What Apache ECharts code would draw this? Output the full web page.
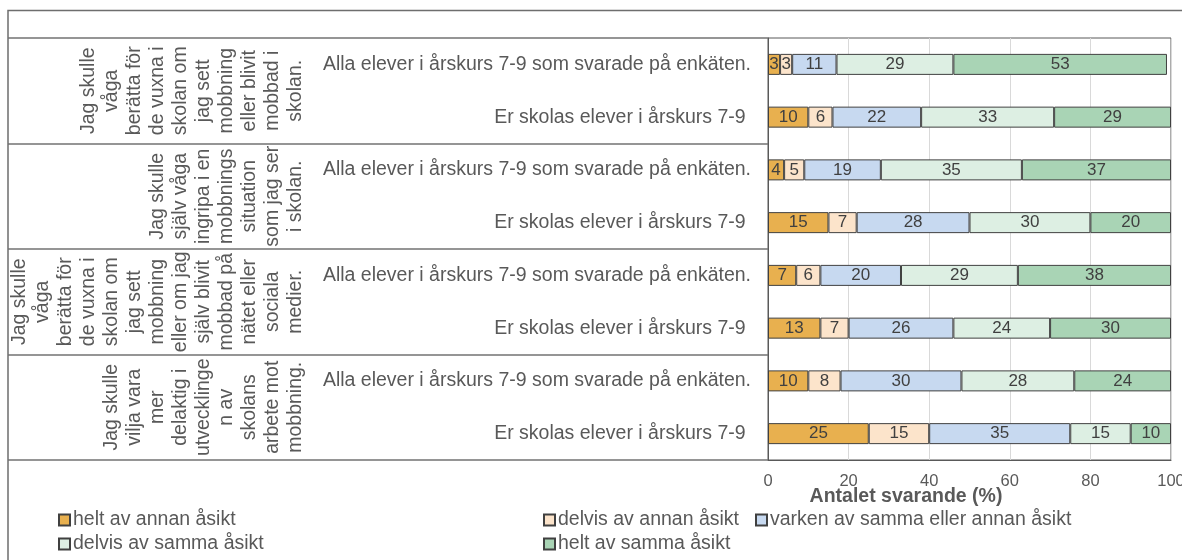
<!DOCTYPE html>
<html>
<head>
<meta charset="utf-8">
<script src="https://cdn.jsdelivr.net/npm/echarts@6/dist/echarts.min.js"></script>
<style>
  html, body { margin: 0; padding: 0; background: #fff; }
  #chart { width: 1182px; height: 560px; }
</style>
</head>
<body>
<div id="chart"></div>
<script>
// Rows (top to bottom) and the question each pair of rows belongs to
const rowLabels = [
  'Alla elever i årskurs 7-9 som svarade på enkäten.', 'Er skolas elever i årskurs 7-9 ',
  'Alla elever i årskurs 7-9 som svarade på enkäten.', 'Er skolas elever i årskurs 7-9 ',
  'Alla elever i årskurs 7-9 som svarade på enkäten.', 'Er skolas elever i årskurs 7-9 ',
  'Alla elever i årskurs 7-9 som svarade på enkäten.', 'Er skolas elever i årskurs 7-9 '
];
const questionLabels = [
  'Jag skulle\nvåga\nberätta för\nde vuxna i\nskolan om\njag sett\nmobbning\neller blivit\nmobbad i\nskolan.',
  'Jag skulle\nsjälv våga\ningripa i en\nmobbnings\nsituation\nsom jag ser\ni skolan.',
  'Jag skulle\nvåga\nberätta för\nde vuxna i\nskolan om\njag sett\nmobbning\neller om jag\nsjälv blivit\nmobbad på\nnätet eller\nsociala\nmedier.',
  'Jag skulle\nvilja vara\nmer\ndelaktig i\nutvecklinge\nn av\nskolans\narbete mot\nmobbning.'
];

// Answer categories (stack order, left to right)
const seriesNames = [
  'helt av annan åsikt',
  'delvis av annan åsikt',
  'varken av samma eller annan åsikt',
  'delvis av samma åsikt',
  'helt av samma åsikt'
];

// Share of respondents (%) per row
const heltAnnan   = [3, 10, 4, 15, 7, 13, 10, 25];
const delvisAnnan = [3, 6, 5, 7, 6, 7, 8, 15];
const varken      = [11, 22, 19, 28, 20, 26, 30, 35];
const delvisSamma = [29, 33, 35, 30, 29, 24, 28, 15];
const heltSamma   = [53, 29, 37, 20, 38, 30, 24, 10];

const xTicks = [0, 20, 40, 60, 80, 100];

const seriesValues = [heltAnnan, delvisAnnan, varken, delvisSamma, heltSamma];
const colors = ['#E8B04F', '#FCE4CB', '#C7D9F0', '#DDEFE3', '#A9D4B5'];

const TEXT = '#595959';
const FONT = 'Liberation Sans, Arial, sans-serif';

const chart = echarts.init(document.getElementById('chart'), null, { renderer: 'canvas' });

const series = seriesNames.map((name, i) => ({
  name: name,
  type: 'bar',
  stack: 'total',
  yAxisIndex: 0,
  barWidth: 21,
  data: seriesValues[i],
  itemStyle: { color: colors[i], borderColor: '#404040', borderWidth: 1 },
  label: {
    show: true,
    position: 'inside',
    color: '#404040',
    fontSize: 17,
    fontFamily: FONT
  },
  emphasis: { disabled: true }
}));

const legendBase = {
  orient: 'vertical',
  icon: 'rect',
  itemWidth: 11,
  itemHeight: 11,
  itemGap: 2,
  padding: 0,
  top: 509,
  textStyle: { color: TEXT, fontSize: 19.5, fontFamily: FONT, lineHeight: 22, padding: [0, 0, 0, -2] },
  selectedMode: false
};

chart.setOption({
  animation: false,
  textStyle: { fontFamily: FONT },
  color: colors,
  grid: {
    left: 768,
    right: 11,
    top: 38,
    bottom: 100,
    show: true,
    borderColor: '#595959',
    borderWidth: 1,
    containLabel: false,
    outerBoundsMode: 'none'
  },
  xAxis: {
    type: 'value',
    min: xTicks[0],
    max: xTicks[xTicks.length - 1],
    interval: xTicks[1] - xTicks[0],
    axisLine: { show: true, lineStyle: { color: '#595959', width: 1 } },
    axisTick: { show: false },
    splitLine: { show: true, lineStyle: { color: '#D9D9D9', width: 1 } },
    axisLabel: { color: TEXT, fontSize: 16.5, fontFamily: FONT, margin: 13 },
    name: 'Antalet svarande (%)',
    nameLocation: 'middle',
    nameGap: 27,
    nameMoveOverlap: false,
    nameTextStyle: {
      color: TEXT,
      fontSize: 19.5,
      fontWeight: 'bold',
      fontFamily: FONT,
      padding: [0, 127, 0, 0]
    }
  },
  yAxis: [
    {
      type: 'category',
      position: 'left',
      inverse: true,
      data: rowLabels,
      axisLine: { show: true, lineStyle: { color: '#595959', width: 1 } },
      axisTick: { show: false },
      axisLabel: { color: TEXT, fontSize: 19.5, fontFamily: FONT, margin: 17, interval: 0 }
    },
    {
      type: 'category',
      position: 'left',
      inverse: true,
      data: questionLabels,
      axisLine: { show: false },
      axisTick: {
        show: true,
        interval: 0,
        length: 760,
        lineStyle: { color: '#737373', width: 1.5 }
      },
      axisLabel: {
        rotate: 90,
        interval: 0,
        margin: 461,
        color: TEXT,
        fontSize: 19.5,
        lineHeight: 23,
        fontFamily: FONT,
        align: 'center'
      }
    }
  ],
  legend: [
    Object.assign({}, legendBase, { left: 58, data: [seriesNames[0], seriesNames[3]] }),
    Object.assign({}, legendBase, { left: 543, data: [seriesNames[1], seriesNames[4]] }),
    Object.assign({}, legendBase, { left: 755, data: [seriesNames[2]] })
  ],
  graphic: [
    {
      type: 'polyline',
      silent: true,
      shape: { points: [[8, 560], [8, 10.5], [1182, 10.5]] },
      style: { stroke: '#6E6E6E', lineWidth: 1.5, fill: null }
    }
  ],
  series: series
});
</script>
</body>
</html>
